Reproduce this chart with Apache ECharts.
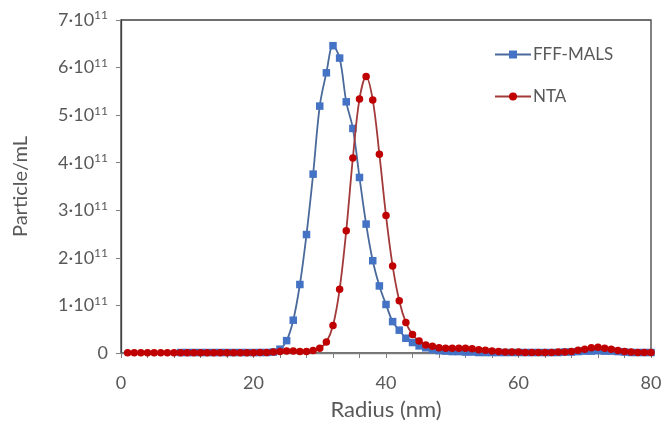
<!DOCTYPE html>
<html>
<head>
<meta charset="utf-8">
<script src="https://cdn.jsdelivr.net/npm/echarts@6/dist/echarts.min.js"></script>
<style>
html,body{margin:0;padding:0;background:#fff;}
#chart{width:663px;height:422px;}
</style>
</head>
<body>
<div id="chart"></div>
<script>
// Radius (nm) for each measured point
const radius = [1,2,3,4,5,6,7,8,9,10,11,12,13,14,15,16,17,18,19,20,
  21,22,23,24,25,26,27,28,29,30,31,32,33,34,35,36,37,38,39,40,
  41,42,43,44,45,46,47,48,49,50,51,52,53,54,55,56,57,58,59,60,
  61,62,63,64,65,66,67,68,69,70,71,72,73,74,75,76,77,78,79,80];

// Values in units of 1e11 particles/mL
const fffMals = [null,null,null,null,null,null,null,null,0.01,0.01,0.01,0.01,0.01,0.01,0.01,0.01,0.01,0.01,0.01,0.01,
  0.01,0.01,0.02,0.08,0.26,0.69,1.44,2.49,3.76,5.19,5.89,6.46,6.20,5.28,4.72,3.69,2.71,1.94,1.41,1.02,
  0.66,0.48,0.31,0.22,0.15,0.11,0.07,0.05,0.04,0.03,0.03,0.02,0.02,0.01,0.01,0.01,0.01,0.01,0.01,0.01,
  0.01,0.01,0.01,0.01,0.01,0.01,0.02,0.02,0.03,0.04,0.04,0.05,0.04,0.04,0.03,0.02,0.01,0.01,0.01,0.01];

const nta = [0.005,0.005,0.005,0.005,0.005,0.005,0.005,0.005,0.005,0.005,0.005,0.005,0.005,0.005,0.005,0.005,0.005,0.005,0.005,0.005,
  0.01,0.01,0.02,0.03,0.04,0.04,0.03,0.03,0.05,0.10,0.23,0.58,1.34,2.57,4.10,5.34,5.81,5.32,4.18,2.89,
  1.83,1.10,0.64,0.39,0.25,0.17,0.14,0.11,0.10,0.10,0.10,0.10,0.09,0.07,0.06,0.04,0.03,0.02,0.02,0.02,
  0.01,0.01,0.01,0.01,0.01,0.02,0.02,0.03,0.06,0.08,0.11,0.12,0.10,0.08,0.05,0.03,0.02,0.01,0.01,0.01];

const scale = 1e11;
const xTickLabels = [0,20,40,60,80];
const yTickLabels = ['0','1·10','2·10','3·10','4·10','5·10','6·10','7·10'];
const seriesNames = ['FFF-MALS','NTA'];

const FONT = 'Lato';
const TXT = '#595959';

function pairs(vals){
  return radius.map((r,i)=> vals[i]==null ? null : [r, vals[i]*scale]).filter(p=>p);
}

const chart = echarts.init(document.getElementById('chart'), null, {renderer:'canvas'});
chart.setOption({
  animation:false,
  backgroundColor:'#fff',
  grid:{left:121,right:12,top:20,bottom:69,show:true,borderColor:'#404040',borderWidth:1.3,
        containLabel:false,outerBoundsMode:'none'},
  legend:{
    orient:'vertical', left:489, top:41, itemWidth:36, itemHeight:10, itemGap:25,
    textStyle:{fontFamily:FONT,fontSize:17,color:TXT,padding:[0,0,0,-3]},
    data:seriesNames
  },
  xAxis:{
    type:'value', min:0, max:80, interval:4,
    name:'Radius (nm)', nameLocation:'middle', nameGap:46,
    nameTextStyle:{fontFamily:FONT,fontSize:22,color:TXT},
    axisLine:{show:true,onZero:false,lineStyle:{color:'#7f7f7f',width:1.3}},
    axisTick:{show:true,inside:false,length:5,lineStyle:{color:'#7f7f7f'}},
    axisLabel:{margin:21,fontFamily:FONT,fontSize:18,color:TXT,
      formatter:v=> xTickLabels.indexOf(v)>=0 ? String(v) : ''},
    splitLine:{show:false}
  },
  yAxis:{
    type:'value', min:0, max:7*scale, interval:scale,
    name:'Particle/mL', nameLocation:'middle', nameGap:90, nameRotate:90,
    nameTextStyle:{fontFamily:FONT,fontSize:20,color:TXT},
    axisLine:{show:true,lineStyle:{color:'#404040',width:1.3}},
    axisTick:{show:true,inside:false,length:5,lineStyle:{color:'#7f7f7f'}},
    axisLabel:{margin:13,fontFamily:FONT,fontSize:18,color:TXT,
      formatter:function(v){
        const i = Math.round(v/scale);
        if(i===0) return '{b|0}';
        return '{b|'+yTickLabels[i]+'}{s|11}';
      },
      rich:{
        b:{fontFamily:FONT,fontSize:18,color:TXT},
        s:{fontFamily:FONT,fontSize:12,color:TXT,padding:[0,0,9,0]}
      }
    },
    splitLine:{show:false}
  },
  series:[
    {name:seriesNames[0],type:'line',smooth:0.35,data:pairs(fffMals),
     symbol:'rect',symbolSize:7.5,
     lineStyle:{color:'#4a6a9c',width:1.8},
     itemStyle:{color:'#4472C4',borderWidth:0},
     z:2},
    {name:seriesNames[1],type:'line',smooth:0.35,data:pairs(nta),
     symbol:'circle',symbolSize:7.5,
     lineStyle:{color:'#a33a3a',width:1.8},
     itemStyle:{color:'#C00000',borderWidth:0},
     z:3}
  ]
});
</script>
</body>
</html>
